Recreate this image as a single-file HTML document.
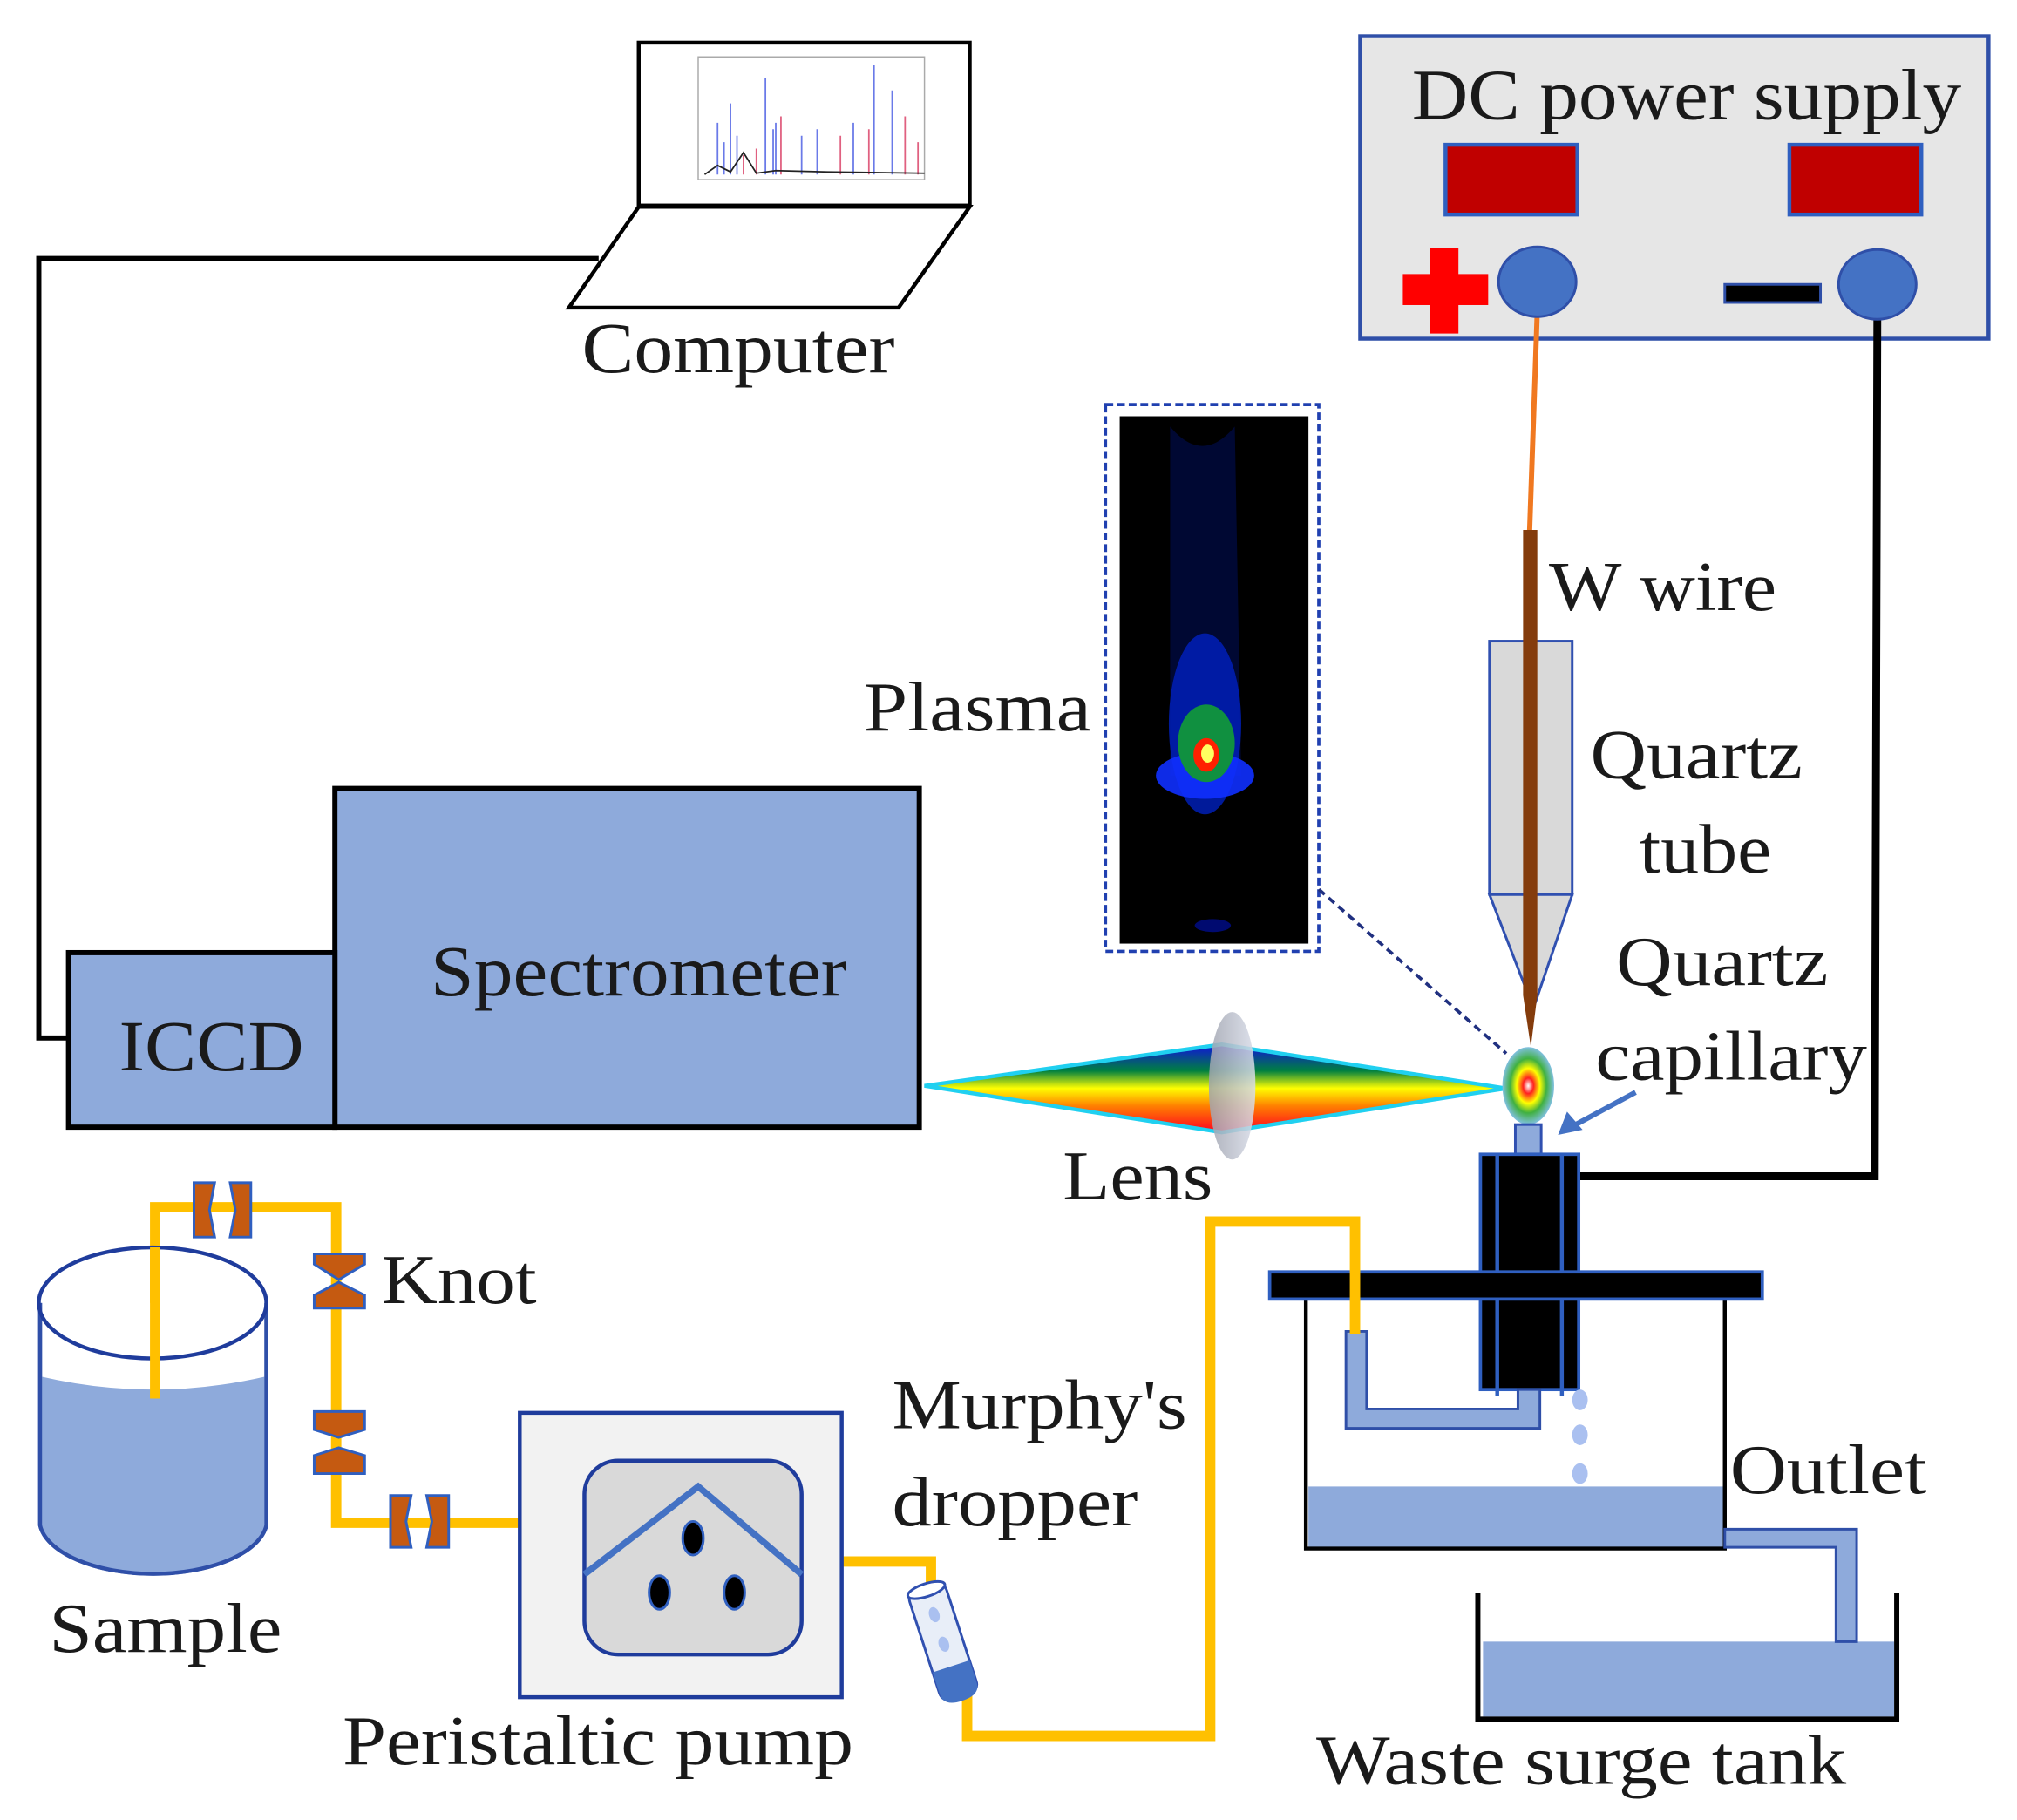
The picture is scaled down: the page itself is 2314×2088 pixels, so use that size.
<!DOCTYPE html>
<html><head><meta charset="utf-8"><style>
html,body{margin:0;padding:0;background:#fff;}
svg{display:block;}
text{font-family:"Liberation Serif",serif;fill:#1a1a1a;}
</style></head><body>
<svg width="2314" height="2088" viewBox="0 0 1560 1408" preserveAspectRatio="none" xmlns="http://www.w3.org/2000/svg">
<defs>
<linearGradient id="rb" x1="0" y1="0" x2="0" y2="1">
<stop offset="0" stop-color="#1010e0"/><stop offset="0.3" stop-color="#008040"/><stop offset="0.5" stop-color="#ffff00"/><stop offset="0.7" stop-color="#ff8000"/><stop offset="1" stop-color="#ff0020"/>
</linearGradient>
<radialGradient id="pl" cx="0.5" cy="0.5" r="0.5">
<stop offset="0" stop-color="#fff"/><stop offset="0.2" stop-color="#ff2020"/><stop offset="0.45" stop-color="#ffff00"/><stop offset="0.7" stop-color="#40b040"/><stop offset="1" stop-color="#80c0e0"/>
</radialGradient>
<radialGradient id="glow" cx="0.5" cy="0.5" r="0.5">
<stop offset="0" stop-color="#ffff60"/><stop offset="0.12" stop-color="#ff2000"/><stop offset="0.25" stop-color="#00a040"/><stop offset="0.55" stop-color="#0020ff"/><stop offset="1" stop-color="#000010" stop-opacity="0"/>
</radialGradient>
<linearGradient id="lensg" x1="0" y1="0" x2="1" y2="0"><stop offset="0" stop-color="#a0a4b0"/><stop offset="1" stop-color="#d8dce8"/></linearGradient>
</defs>

<!-- Laptop -->
<rect x="494" y="33" width="256" height="126" fill="#fff" stroke="#000" stroke-width="3"/>
<rect x="540" y="44" width="175" height="95" fill="none" stroke="#aaa" stroke-width="1"/>
<g stroke-width="1.2">
<path d="M555 135 V95 M560 135 V110 M565 135 V80 M570 135 V105 M592 135 V60 M598 135 V100 M620 135 V105 M632 135 V100 M660 135 V95 M676 135 V50 M690 135 V70 M600 135 V95" stroke="#6a7ae8"/>
<path d="M575 135 V120 M585 135 V115 M604 135 V90 M650 135 V105 M672 135 V100 M700 135 V90 M710 135 V110" stroke="#e06080"/>
<path d="M545 135 L555 128 L565 133 L575 118 L585 134 L600 132 L640 133 L715 134" stroke="#222" fill="none"/>
</g>
<polygon points="494,160 750,160 695,238 440,238" fill="#fff" stroke="#000" stroke-width="3"/>
<text x="450" y="288" font-size="56" textLength="242" lengthAdjust="spacingAndGlyphs">Computer</text>

<polyline points="463,200 30,200 30,803 53,803" fill="none" stroke="#000" stroke-width="4"/>

<!-- DC power supply -->
<rect x="1052" y="28" width="486" height="234" fill="#e6e6e6" stroke="#2f4fa8" stroke-width="3"/>
<text x="1092" y="92" font-size="56" textLength="425" lengthAdjust="spacingAndGlyphs">DC power supply</text>
<rect x="1118" y="112" width="102" height="54" fill="#c00000" stroke="#2f5fc0" stroke-width="3"/>
<rect x="1384" y="112" width="102" height="54" fill="#c00000" stroke="#2f5fc0" stroke-width="3"/>
<rect x="1085" y="212" width="66" height="24" fill="#ff0000"/>
<rect x="1106" y="192" width="22" height="66" fill="#ff0000"/>
<rect x="1334" y="220" width="74" height="14" fill="#000" stroke="#2f4fa8" stroke-width="2"/>
<line x1="1189" y1="240" x2="1183" y2="412" stroke="#f07820" stroke-width="4"/>
<polyline points="1452,240 1450,910 1222,910" fill="none" stroke="#000" stroke-width="6"/>
<ellipse cx="1189" cy="218" rx="30" ry="27" fill="#4472c4" stroke="#2f4fa8" stroke-width="2"/>
<ellipse cx="1452" cy="220" rx="30" ry="27" fill="#4472c4" stroke="#2f4fa8" stroke-width="2"/>

<!-- quartz tube and wire -->
<rect x="1152" y="496" width="64" height="196" fill="#d9d9d9" stroke="#3050b0" stroke-width="2"/>
<polygon points="1152,692 1216,692 1186,780" fill="#d9d9d9" stroke="#3050b0" stroke-width="2"/>
<polygon points="1178,410 1189,410 1189,770 1184,810 1178,770" fill="#843c0c"/>
<text x="1198" y="472" font-size="54" textLength="176" lengthAdjust="spacingAndGlyphs">W wire</text>
<text x="1230" y="602" font-size="54" textLength="164" lengthAdjust="spacingAndGlyphs">Quartz</text>
<text x="1268" y="675" font-size="54" textLength="102" lengthAdjust="spacingAndGlyphs">tube</text>
<text x="1250" y="762" font-size="54" textLength="164" lengthAdjust="spacingAndGlyphs">Quartz</text>
<text x="1234" y="835" font-size="54" textLength="210" lengthAdjust="spacingAndGlyphs">capillary</text>

<!-- plasma image -->
<rect x="855" y="313" width="165" height="423" fill="none" stroke="#2040b0" stroke-width="2.5" stroke-dasharray="6,3"/>
<rect x="866" y="322" width="146" height="408" fill="#000"/>
<path d="M905 330 Q930 360 955 330 L960 600 L905 600 Z" fill="#000a40" opacity="0.8"/>
<ellipse cx="932" cy="560" rx="28" ry="70" fill="#0020c0" opacity="0.8"/>
<ellipse cx="932" cy="600" rx="38" ry="18" fill="#1030ff" opacity="0.9"/>
<ellipse cx="933" cy="575" rx="22" ry="30" fill="#109040"/>
<ellipse cx="933" cy="584" rx="10" ry="13" fill="#ff2000"/>
<ellipse cx="934" cy="583" rx="5" ry="7" fill="#ffff60"/>
<ellipse cx="938" cy="716" rx="14" ry="5" fill="#000a70"/>
<text x="668" y="565" font-size="54" textLength="176" lengthAdjust="spacingAndGlyphs">Plasma</text>
<line x1="1020" y1="688" x2="1165" y2="815" stroke="#203080" stroke-width="2.5" stroke-dasharray="6,4"/>

<!-- light cone -->
<polygon points="715,840 945,808 1165,842 945,876" fill="url(#rb)" stroke="#20d0f0" stroke-width="3"/>
<ellipse cx="953" cy="840" rx="18" ry="57" fill="url(#lensg)" opacity="0.85"/>
<text x="822" y="928" font-size="54" textLength="116" lengthAdjust="spacingAndGlyphs">Lens</text>
<ellipse cx="1182" cy="840" rx="20" ry="30" fill="url(#pl)"/>
<line x1="1265" y1="845" x2="1215" y2="872" stroke="#4472c4" stroke-width="4"/>
<polygon points="1205,878 1212,860 1224,874" fill="#4472c4"/>

<!-- spectrometer -->
<rect x="259" y="610" width="452" height="262" fill="#8eaadb" stroke="#000" stroke-width="4"/>
<rect x="53" y="737" width="206" height="135" fill="#8eaadb" stroke="#000" stroke-width="4"/>
<text x="333" y="770" font-size="56" textLength="322" lengthAdjust="spacingAndGlyphs">Spectrometer</text>
<text x="92" y="828" font-size="56" textLength="143" lengthAdjust="spacingAndGlyphs">ICCD</text>

<!-- holder -->
<rect x="1172" y="870" width="20" height="24" fill="#8eaadb" stroke="#3050b0" stroke-width="2"/>
<rect x="1145" y="893" width="76" height="182" fill="#000" stroke="#2f5fc0" stroke-width="2.5"/>
<line x1="1158" y1="893" x2="1158" y2="1080" stroke="#2f5fc0" stroke-width="3"/>
<line x1="1208" y1="893" x2="1208" y2="1080" stroke="#2f5fc0" stroke-width="3"/>

<!-- tank -->
<rect x="1012" y="1150" width="322" height="47" fill="#8eaadb"/>
<polyline points="1010,1005 1010,1198 1334,1198 1334,1005" fill="none" stroke="#000" stroke-width="3"/>
<rect x="982" y="984" width="381" height="21" fill="#000" stroke="#2f5fc0" stroke-width="2.5"/>
<path d="M1041 1030 V1105 H1191 V1075 H1174 V1090 H1057 V1030 Z" fill="#8eaadb" stroke="#2f4fa8" stroke-width="2"/>
<ellipse cx="1222" cy="1083" rx="6" ry="8" fill="#aac0f0"/>
<ellipse cx="1222" cy="1110" rx="6" ry="8" fill="#aac0f0"/>
<ellipse cx="1222" cy="1140" rx="6" ry="8" fill="#aac0f0"/>
<rect x="1147" y="1270" width="318" height="58" fill="#8eaadb"/>
<path d="M1334 1183 H1436 V1270 H1420 V1197 H1334 Z" fill="#8eaadb" stroke="#2f4fa8" stroke-width="2"/>
<polyline points="1143,1232 1143,1330 1467,1330 1467,1232" fill="none" stroke="#000" stroke-width="4"/>
<text x="1338" y="1155" font-size="54" textLength="152" lengthAdjust="spacingAndGlyphs">Outlet</text>
<text x="1018" y="1380" font-size="54" textLength="410" lengthAdjust="spacingAndGlyphs">Waste surge tank</text>

<!-- yellow tubes -->
<polyline points="120,1080 120,934 260,934 260,1178 402,1178" fill="none" stroke="#ffc000" stroke-width="8"/>
<polyline points="651,1208 720,1208 720,1235" fill="none" stroke="#ffc000" stroke-width="8"/>
<polyline points="748,1310 748,1343 936,1343 936,945 1048,945 1048,1032" fill="none" stroke="#ffc000" stroke-width="8"/>

<!-- sample -->
<path d="M31 1008 V1180 A88 42 0 0 0 206 1180 V1008" fill="#fff" stroke="#2f4fa8" stroke-width="3"/>
<path d="M32 1065 Q118 1085 205 1065 V1180 A87 41 0 0 1 32 1180 Z" fill="#8eaadb"/>
<path d="M31 1008 V1180 A88 42 0 0 0 206 1180 V1008" fill="none" stroke="#2f4fa8" stroke-width="3"/>
<ellipse cx="118" cy="1008" rx="88" ry="43" fill="none" stroke="#1f3c9c" stroke-width="3"/>
<line x1="120" y1="965" x2="120" y2="1082" stroke="#ffc000" stroke-width="8"/>
<text x="38" y="1278" font-size="54" textLength="180" lengthAdjust="spacingAndGlyphs">Sample</text>

<!-- knots -->
<g fill="#c55a11" stroke="#2f5fc0" stroke-width="2">
<path d="M150 915 H166 L162 936 L166 957 H150 Z"/><path d="M178 915 H194 V957 H178 L182 936 Z"/>
<path d="M243 970 H282 V978 L262 990 L243 978 Z"/><path d="M243 1012 H282 V1002 L262 992 L243 1002 Z"/>
<path d="M243 1092 H282 V1106 L262 1112 L243 1106 Z"/><path d="M243 1140 H282 V1126 L262 1120 L243 1126 Z"/>
<path d="M302 1157 H318 L314 1177 L318 1197 H302 Z"/><path d="M330 1157 H347 V1197 H330 L334 1177 Z"/>
</g>
<text x="295" y="1008" font-size="54" textLength="120" lengthAdjust="spacingAndGlyphs">Knot</text>

<!-- pump -->
<rect x="402" y="1093" width="249" height="220" fill="#f2f2f2" stroke="#1f3c9c" stroke-width="3"/>
<rect x="452" y="1130" width="168" height="150" rx="26" fill="#d9d9d9" stroke="#1f3c9c" stroke-width="3"/>
<polyline points="452,1218 540,1150 620,1218" fill="none" stroke="#4472c4" stroke-width="5"/>
<g fill="#000" stroke="#3060c0" stroke-width="2">
<ellipse cx="536" cy="1190" rx="8" ry="13"/><ellipse cx="510" cy="1232" rx="8" ry="13"/><ellipse cx="568" cy="1232" rx="8" ry="13"/>
</g>
<text x="265" y="1365" font-size="54" textLength="395" lengthAdjust="spacingAndGlyphs">Peristaltic pump</text>

<!-- dropper -->
<g transform="rotate(-18 730 1272)">
<rect x="715" y="1225" width="30" height="90" rx="8" fill="#e8eef8" stroke="#3050b0" stroke-width="2"/>
<path d="M715 1290 H745 V1308 Q745 1318 730 1318 Q715 1318 715 1308 Z" fill="#4472c4"/>
<ellipse cx="730" cy="1228" rx="15" ry="5" fill="#fff" stroke="#3050b0" stroke-width="2"/>
<ellipse cx="730" cy="1248" rx="4" ry="6" fill="#aac0f0"/><ellipse cx="730" cy="1272" rx="4" ry="6" fill="#aac0f0"/>
</g>
<text x="690" y="1105" font-size="54" textLength="228" lengthAdjust="spacingAndGlyphs">Murphy's</text>
<text x="690" y="1180" font-size="54" textLength="190" lengthAdjust="spacingAndGlyphs">dropper</text>
</svg>
</body></html>
